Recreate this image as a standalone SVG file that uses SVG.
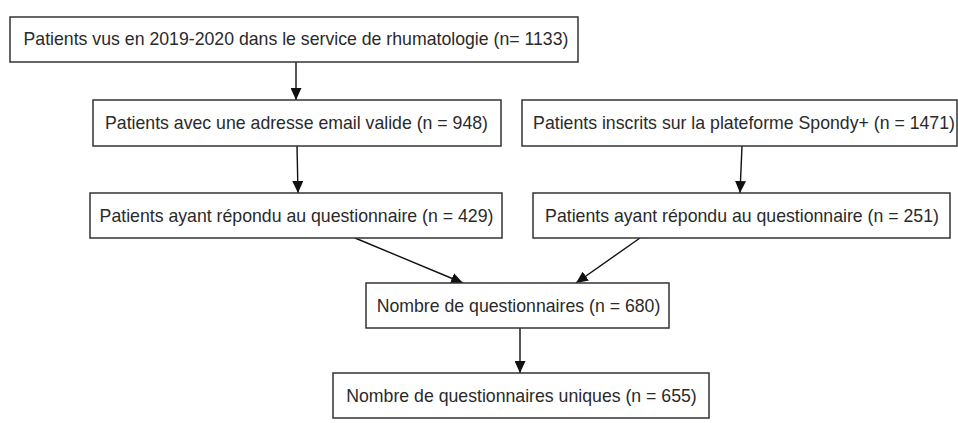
<svg xmlns="http://www.w3.org/2000/svg" width="958" height="423" viewBox="0 0 958 423">
<style>
.box{fill:#fff;stroke:#333;stroke-width:1.5}
.t{font-family:"Liberation Sans",Arial,sans-serif;font-size:17.7px;fill:#2a2a2a;text-anchor:middle}
.c{stroke:#111;stroke-width:1.4;fill:none;marker-end:url(#ah)}
</style>
<defs>
<marker id="ah" viewBox="0 0 12 11" refX="12" refY="5.5" markerWidth="12" markerHeight="11" markerUnits="userSpaceOnUse" orient="auto">
<path d="M0,0 L12,5.5 L0,11 z" fill="#111"/>
</marker>
</defs>
<rect width="958" height="423" fill="#fff"/>
<g id="connectors">
<line class="c" x1="296" y1="62" x2="296" y2="100"/>
<line class="c" x1="297" y1="146" x2="298" y2="193"/>
<line class="c" x1="742" y1="146" x2="740" y2="193"/>
<line class="c" x1="355" y1="238" x2="463" y2="283"/>
<line class="c" x1="640" y1="238" x2="576" y2="283"/>
<line class="c" x1="520" y1="328" x2="520" y2="373"/>
</g>
<g id="n1"><rect class="box" x="10" y="17" width="568" height="45"/><text class="t" x="296" y="45">Patients vus en 2019-2020 dans le service de rhumatologie (n= 1133)</text></g>
<g id="n2"><rect class="box" x="93" y="100" width="408" height="46"/><text class="t" x="296.5" y="129">Patients avec une adresse email valide (n = 948)</text></g>
<g id="n3"><rect class="box" x="522" y="100" width="435" height="46"/><text class="t" x="744" y="129">Patients inscrits sur la plateforme Spondy+ (n = 1471)</text></g>
<g id="n4"><rect class="box" x="90" y="193" width="412" height="45"/><text class="t" x="296.5" y="222">Patients ayant répondu au questionnaire (n = 429)</text></g>
<g id="n5"><rect class="box" x="533" y="193" width="417" height="45"/><text class="t" x="742" y="222">Patients ayant répondu au questionnaire (n = 251)</text></g>
<g id="n6"><rect class="box" x="366" y="283" width="303" height="45"/><text class="t" x="518.5" y="312">Nombre de questionnaires (n = 680)</text></g>
<g id="n7"><rect class="box" x="333" y="373" width="376" height="45"/><text class="t" x="521.5" y="402">Nombre de questionnaires uniques (n = 655)</text></g>
</svg>
